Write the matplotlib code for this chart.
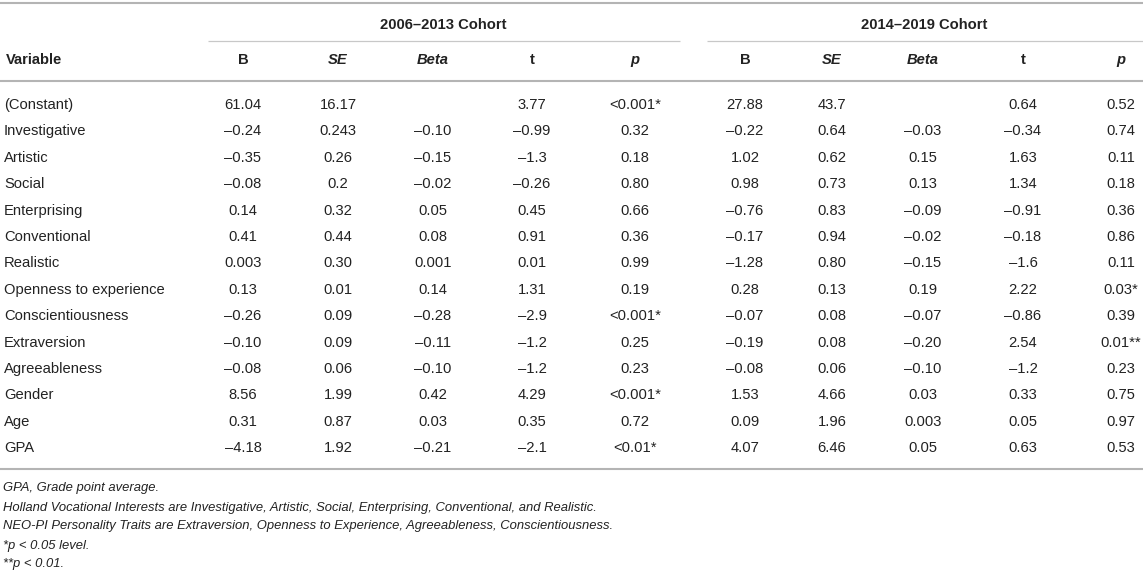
import matplotlib
matplotlib.use("Agg")
import matplotlib.pyplot as plt

plt.rcParams['font.family'] = ['Liberation Sans', 'DejaVu Sans']

# table content
variables = ["(Constant)", "Investigative", "Artistic", "Social", "Enterprising",
             "Conventional", "Realistic", "Openness to experience", "Conscientiousness",
             "Extraversion", "Agreeableness", "Gender", "Age", "GPA"]

cohort_labels = ["2006\u20132013 Cohort", "2014\u20132019 Cohort"]
col_labels = ["B", "SE", "Beta", "t", "p"]
col_italic = [False, True, True, False, True]

M = "\u2013"
c1_B = ["61.04", M + "0.24", M + "0.35", M + "0.08", "0.14", "0.41", "0.003", "0.13",
        M + "0.26", M + "0.10", M + "0.08", "8.56", "0.31", M + "4.18"]
c1_SE = ["16.17", "0.243", "0.26", "0.2", "0.32", "0.44", "0.30", "0.01",
         "0.09", "0.09", "0.06", "1.99", "0.87", "1.92"]
c1_beta = ["", M + "0.10", M + "0.15", M + "0.02", "0.05", "0.08", "0.001", "0.14",
           M + "0.28", M + "0.11", M + "0.10", "0.42", "0.03", M + "0.21"]
c1_t = ["3.77", M + "0.99", M + "1.3", M + "0.26", "0.45", "0.91", "0.01", "1.31",
        M + "2.9", M + "1.2", M + "1.2", "4.29", "0.35", M + "2.1"]
c1_p = ["<0.001*", "0.32", "0.18", "0.80", "0.66", "0.36", "0.99", "0.19",
        "<0.001*", "0.25", "0.23", "<0.001*", "0.72", "<0.01*"]

c2_B = ["27.88", M + "0.22", "1.02", "0.98", M + "0.76", M + "0.17", M + "1.28", "0.28",
        M + "0.07", M + "0.19", M + "0.08", "1.53", "0.09", "4.07"]
c2_SE = ["43.7", "0.64", "0.62", "0.73", "0.83", "0.94", "0.80", "0.13",
         "0.08", "0.08", "0.06", "4.66", "1.96", "6.46"]
c2_beta = ["", M + "0.03", "0.15", "0.13", M + "0.09", M + "0.02", M + "0.15", "0.19",
           M + "0.07", M + "0.20", M + "0.10", "0.03", "0.003", "0.05"]
c2_t = ["0.64", M + "0.34", "1.63", "1.34", M + "0.91", M + "0.18", M + "1.6", "2.22",
        M + "0.86", "2.54", M + "1.2", "0.33", "0.05", "0.63"]
c2_p = ["0.52", "0.74", "0.11", "0.18", "0.36", "0.86", "0.11", "0.03*",
        "0.39", "0.01**", "0.23", "0.75", "0.97", "0.53"]

footnotes = ["GPA, Grade point average.",
             "Holland Vocational Interests are Investigative, Artistic, Social, Enterprising, Conventional, and Realistic.",
             "NEO-PI Personality Traits are Extraversion, Openness to Experience, Agreeableness, Conscientiousness.",
             "*p < 0.05 level.",
             "**p < 0.01."]

# layout (pixels)
W, H = 1143, 576
col_x = [243, 338, 433, 532, 635, 745, 832, 923, 1023, 1121]
cohort_span = [(208, 680), (707, 1143)]
row_y0, row_dy = 104, 26.4
text_col = "#222222"
line_col = "#b4b4b4"

fig = plt.figure(figsize=(W / 100, H / 100), dpi=100)
ax = fig.add_axes([0, 0, 1, 1])
ax.set_xlim(0, W)
ax.set_ylim(H, 0)
ax.axis("off")

fs = 10.6
fs_note = 9.4

# horizontal rules
for y in (3, 81, 469):
    ax.plot([0, W], [y, y], color=line_col, lw=1.5, solid_capstyle="butt")
for x0, x1 in cohort_span:
    ax.plot([x0, x1], [41, 41], color="#c8c8c8", lw=0.9, solid_capstyle="butt")

# cohort headers
for (x0, x1), lab in zip(cohort_span, cohort_labels):
    ax.text((x0 + x1) / 2 - 1, 24 + 5, lab, ha="center", va="baseline",
            fontsize=fs, fontweight="bold", color=text_col)

# column headers
ax.text(6, 59 + 5, "Variable", ha="left", va="baseline",
        fontsize=fs, fontweight="bold", color=text_col)
for k, x in enumerate(col_x):
    j = k % 5
    ax.text(x, 59 + 5, col_labels[j], ha="center", va="baseline", fontsize=fs,
            fontweight="bold", fontstyle="italic" if col_italic[j] else "normal",
            color=text_col)

# body
columns = [c1_B, c1_SE, c1_beta, c1_t, c1_p, c2_B, c2_SE, c2_beta, c2_t, c2_p]
for i, var in enumerate(variables):
    y = row_y0 + i * row_dy + 5
    ax.text(4, y, var, ha="left", va="baseline", fontsize=fs, color=text_col)
    for x, col in zip(col_x, columns):
        if col[i]:
            ax.text(x, y, col[i], ha="center", va="baseline", fontsize=fs, color=text_col)

# footnotes
for i, note in enumerate(footnotes):
    ax.text(3, 487 + i * 19 + 4.5, note, ha="left", va="baseline",
            fontsize=fs_note, fontstyle="italic", color=text_col)

fig.savefig("out.png", dpi=100, facecolor="white")
